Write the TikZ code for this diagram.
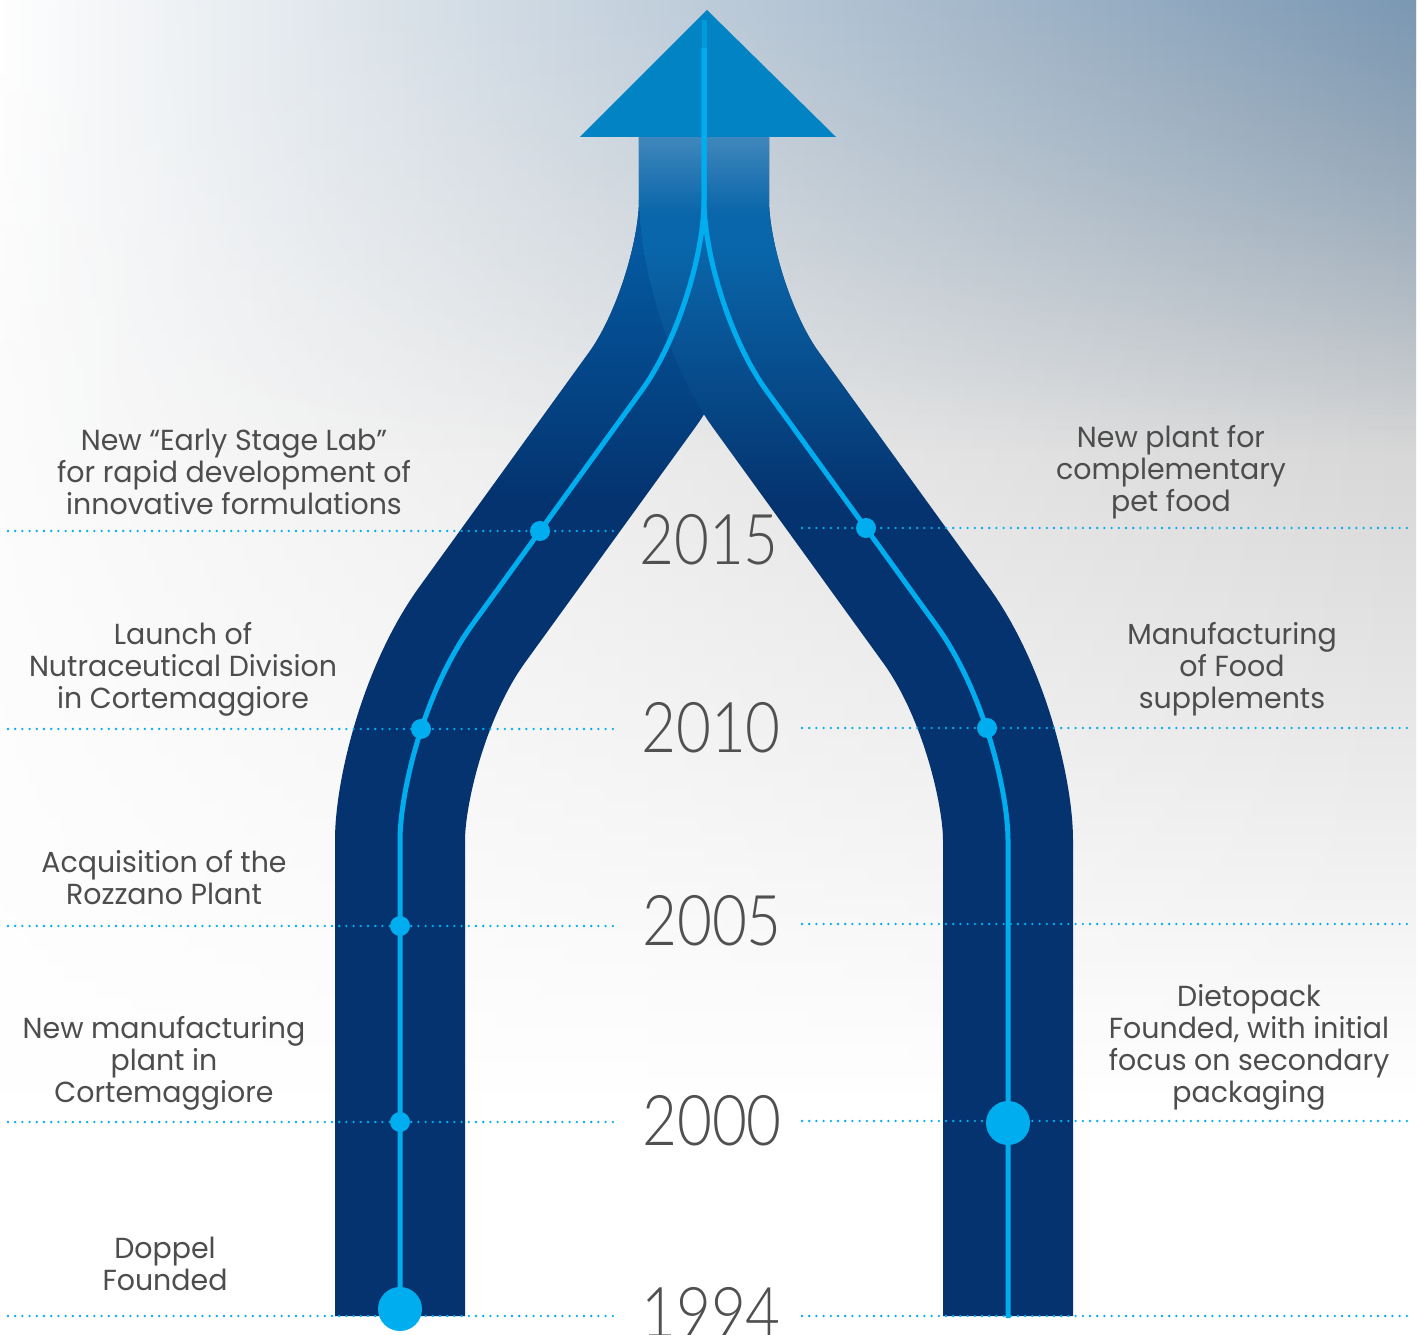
\documentclass[tikz,border=0pt]{standalone}
\usepackage{fontspec}
\setmainfont{Poppins}[FakeStretch=0.98]
\IfFontExistsTF{Lato Light}{\newfontfamily\yearfont{Lato Light}[FakeStretch=0.86]}{\newfontfamily\yearfont{Lato}[FakeStretch=0.86]}
\usetikzlibrary{fadings}
\definecolor{navy}{HTML}{05336F}
\definecolor{midblue}{HTML}{0459A0}
\definecolor{midblueR}{HTML}{0A66AA}
\definecolor{arrowblue}{HTML}{0284C4}
\definecolor{cyanline}{HTML}{00AEEF}
\definecolor{txtgray}{HTML}{4D4D4D}
\definecolor{yeargray}{HTML}{505050}
\definecolor{bgtop}{HTML}{7B98B3}
\definecolor{graytop}{HTML}{BBBBBB}
\definecolor{graymid}{HTML}{C4C4C4}
\tikzfading[name=bgfade, left color=transparent!92, right color=transparent!0]
\tikzfading[name=upfade, top color=transparent!0, bottom color=transparent!100]
\tikzset{
  band/.style={navy, line width=130pt, line cap=butt, line join=round},
  bandlight/.style={line width=130pt, line cap=butt, line join=round, path fading=upfade, fit fading=false, fading transform={shift={(704,958)}, xscale=12, yscale=5.1}},
  thinline/.style={cyanline, line width=5pt, line join=round},
  dotline/.style={cyanline, line width=2.6pt, dash pattern=on 0pt off 7.2pt, line cap=round},
  smalldot/.style={circle, fill=cyanline, inner sep=0pt, minimum size=20pt},
  bigdot/.style={circle, fill=cyanline, inner sep=0pt, minimum size=44pt},
  lbl/.style={align=center, text=txtgray, font=\fontsize{29}{32}\selectfont, inner sep=0pt},
  yearlbl/.style={text=yeargray, font=\yearfont\fontsize{70}{72}\selectfont, inner sep=0pt}
}
\begin{document}
\begin{tikzpicture}[x=1pt,y=1pt]
\useasboundingbox (0,0) rectangle (1421,1334);
% background
\fill[white] (0,0) rectangle (1421,1334);
\shade[top color=graytop, middle color=graymid, bottom color=white, path fading=bgfade] (0,234) rectangle (1421,1334);
\shade[left color=white, right color=bgtop, path fading=upfade] (0,884) rectangle (1421,1334);
% bands
\draw[band] (400,18) -- (400,494) .. controls (400,540) and (423,641) .. (472,709) -- (642,944) .. controls (678,994) and (704,1080) .. (704,1134) -- (704,1197);
\draw[bandlight, midblue] (400,494) .. controls (400,540) and (423,641) .. (472,709) -- (642,944) .. controls (678,994) and (704,1080) .. (704,1134) -- (704,1197);
\draw[band] (1008,18) -- (1008,494) .. controls (1008,540) and (985,641) .. (936,709) -- (766,944) .. controls (730,994) and (704,1080) .. (704,1134) -- (704,1197);
\draw[bandlight, midblueR] (1008,494) .. controls (1008,540) and (985,641) .. (936,709) -- (766,944) .. controls (730,994) and (704,1080) .. (704,1134) -- (704,1197);
\fill[white, opacity=0.22, path fading=upfade] (639,1120) rectangle (769,1197);
% arrow head
\fill[arrowblue] (580,1197) -- (836,1197) -- (707,1324) -- cycle;
% dotted year lines
\draw[dotline] (8,803) -- (615,803);
\draw[dotline] (802,806) -- (1410,806);
\draw[dotline] (8,605) -- (615,605);
\draw[dotline] (802,606) -- (1410,606);
\draw[dotline] (8,408) -- (615,408);
\draw[dotline] (802,410) -- (1410,410);
\draw[dotline] (8,212) -- (615,212);
\draw[dotline] (802,213) -- (1410,213);
\draw[dotline] (8,18) -- (615,18);
\draw[dotline] (802,18) -- (1410,18);
% thin lines
\draw[thinline] (400,18) -- (400,494) .. controls (400,540) and (423,641) .. (472,709) -- (642,944) .. controls (678,994) and (704,1080) .. (704,1134) -- (704,1286);
\draw[thinline] (1008,16) -- (1008,494) .. controls (1008,540) and (985,641) .. (936,709) -- (766,944) .. controls (730,994) and (704,1080) .. (704,1134) -- (704,1286);
\draw[thinline, opacity=0.55] (704,1286) -- (704,1314);
% dots
\node[smalldot] (l2015) at (540,803) {};
\node[smalldot] (l2010) at (421,605) {};
\node[smalldot] (l2005) at (400,408) {};
\node[smalldot] (l2000) at (400,212) {};
\node[bigdot] (l1994) at (400,25) {};
\node[smalldot] (r2015) at (866,806) {};
\node[smalldot] (r2010) at (987,606) {};
\node[bigdot] (r2000) at (1008,211) {};
% years
\node[yearlbl] (y2015) at (709,794) {2015};
\node[yearlbl] (y2010) at (711,606) {2010};
\node[yearlbl] (y2005) at (712,413) {2005};
\node[yearlbl] (y2000) at (712,213) {2000};
\node[yearlbl] (y1994) at (711,22) {1994};
% labels left
\node[lbl] (t2015l) at (234,862) {New “Early Stage Lab”\\for rapid development of\\innovative formulations};
\node[lbl] (t2010l) at (183,665) {Launch of\\Nutraceutical Division\\in Cortemaggiore};
\node[lbl] (t2005l) at (164,456) {Acquisition of the\\Rozzano Plant};
\node[lbl] (t2000l) at (164,271) {New manufacturing\\plant in\\Cortemaggiore};
\node[lbl] (t1994l) at (165,70) {Doppel\\Founded};
% labels right
\node[lbl] (t2015r) at (1171,862) {New plant for\\complementary\\pet food};
\node[lbl] (t2010r) at (1232,665) {Manufacturing\\of Food\\supplements};
\node[lbl] (t2000r) at (1249,287) {Dietopack\\Founded, with initial\\focus on secondary\\packaging};
\end{tikzpicture}
\end{document}
